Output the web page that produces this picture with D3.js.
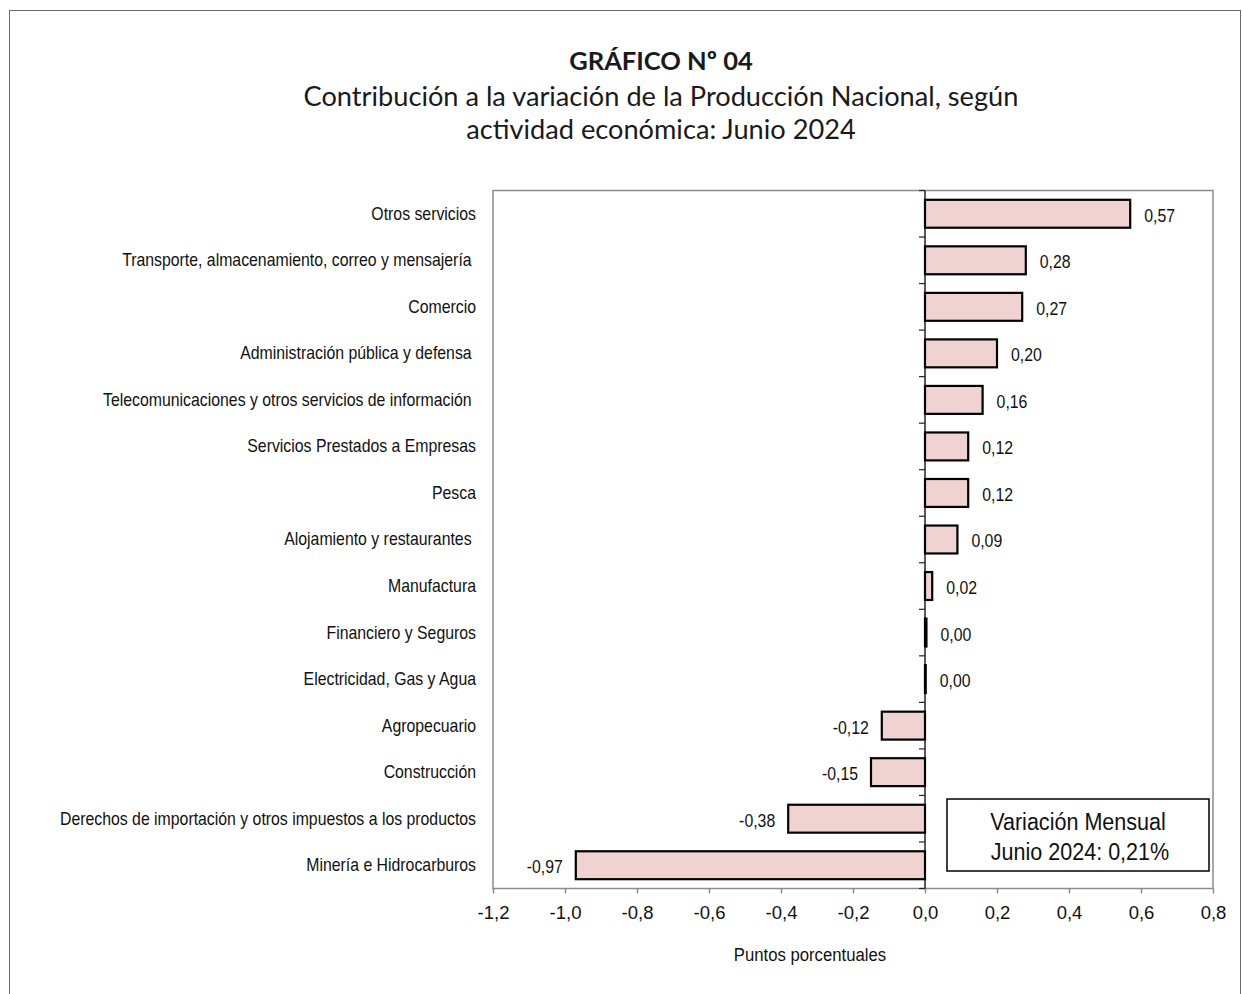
<!DOCTYPE html>
<html>
<head>
<meta charset="utf-8">
<script src="https://cdn.jsdelivr.net/npm/d3@7/dist/d3.min.js"></script>
<style>
  html, body { margin: 0; padding: 0; background: #fff; }
  svg { display: block; }
  .lbl { font-family: "Liberation Sans", Arial, sans-serif; }
  .ttl { font-family: Lato, "Open Sans", sans-serif; }
</style>
</head>
<body>
<script>
const categories = [
  "Otros servicios",
  "Transporte, almacenamiento, correo y mensajería ",
  "Comercio",
  "Administración pública y defensa ",
  "Telecomunicaciones y otros servicios de información ",
  "Servicios Prestados a Empresas",
  "Pesca",
  "Alojamiento y restaurantes ",
  "Manufactura",
  "Financiero y Seguros",
  "Electricidad, Gas y Agua",
  "Agropecuario",
  "Construcción",
  "Derechos de importación y otros impuestos a los productos",
  "Minería e Hidrocarburos"
];
const values = [0.57, 0.28, 0.27, 0.20, 0.16, 0.12, 0.12, 0.09, 0.02, 0.004, 0.002, -0.12, -0.15, -0.38, -0.97];
const xTicks = [-1.2, -1.0, -0.8, -0.6, -0.4, -0.2, 0.0, 0.2, 0.4, 0.6, 0.8];
const titleText = "GRÁFICO Nº 04";
const subtitleLines = ["Contribución a la variación de la Producción Nacional, según", "actividad económica: Junio 2024"];
const xAxisTitle = "Puntos porcentuales";
const noteLines = ["Variación Mensual", "Junio 2024: 0,21%"];

const W = 1242, H = 994;
const plot = {left: 493, right: 1213, top: 190.5, bottom: 888.5};
const SX = 0.88; // horizontal condensing to mimic a narrow sans face

const loc = d3.formatLocale({decimal: ",", thousands: ".", grouping: [3], currency: ["", ""], minus: "-"});
const f1 = loc.format(".1f");
const f2 = loc.format(".2f");

const svg = d3.select("body").append("svg").attr("width", W).attr("height", H);

function narrow(sel, xf, yf) {
  sel.attr("x", (d, i) => xf(d, i) / SX).attr("y", yf).attr("transform", `scale(${SX},1)`);
  return sel;
}

// outer frame
svg.append("rect").attr("x", 9.5).attr("y", 10.5).attr("width", 1231).attr("height", 1000)
  .attr("fill", "none").attr("stroke", "#6b6b6b").attr("stroke-width", 1);

// titles
svg.append("text").attr("class", "ttl").attr("x", 661).attr("y", 70)
  .attr("text-anchor", "middle").attr("font-weight", "bold").attr("font-size", 25.5).attr("fill", "#1a1a1a")
  .text(titleText);
svg.selectAll("text.sub").data(subtitleLines).enter().append("text").attr("class", "ttl sub")
  .attr("x", 661).attr("y", (d, i) => 106 + i * 33)
  .attr("text-anchor", "middle").attr("font-size", 27.2).attr("fill", "#1a1a1a")
  .text(d => d);

const x = d3.scaleLinear().domain([-1.2, 0.8]).range([plot.left, plot.right]);
const y = d3.scaleBand().domain(categories).range([plot.top, plot.bottom]).paddingInner(0.4).paddingOuter(0.2);

// plot border
svg.append("rect").attr("x", plot.left).attr("y", plot.top)
  .attr("width", plot.right - plot.left).attr("height", plot.bottom - plot.top)
  .attr("fill", "none").attr("stroke", "#8c8c8c").attr("stroke-width", 1.5);

// x axis
const xAxis = d3.axisBottom(x).tickValues(xTicks).tickFormat(f1).tickSize(5).tickPadding(12);
const gx = svg.append("g").attr("transform", `translate(0,${plot.bottom})`).call(xAxis);
gx.select(".domain").remove();
gx.selectAll(".tick line").attr("stroke", "#8c8c8c").attr("stroke-width", 1.5);
gx.selectAll(".tick text").attr("class", "lbl").attr("font-size", 18.5).attr("fill", "#111");

narrow(svg.append("text").attr("class", "lbl"), () => 810, 961)
  .attr("text-anchor", "middle").attr("font-size", 19).attr("fill", "#111").text(xAxisTitle);

// y axis at zero
const step = y.step();
const yBounds = d3.range(categories.length + 1).map(i => plot.top + i * step);
svg.append("line").attr("x1", x(0)).attr("x2", x(0)).attr("y1", plot.top).attr("y2", plot.bottom)
  .attr("stroke", "#222").attr("stroke-width", 1.5);
svg.selectAll("line.ytick").data(yBounds).enter().append("line").attr("class", "ytick")
  .attr("x1", x(0) - 6).attr("x2", x(0)).attr("y1", d => d).attr("y2", d => d)
  .attr("stroke", "#222").attr("stroke-width", 1.2);

// bars
svg.selectAll("rect.bar").data(values).enter().append("rect").attr("class", "bar")
  .attr("x", d => x(Math.min(0, d)))
  .attr("y", (d, i) => y(categories[i]))
  .attr("width", d => Math.abs(x(d) - x(0)))
  .attr("height", y.bandwidth())
  .attr("fill", "#f0d3d1").attr("stroke", "#000").attr("stroke-width", 2.2);

// value labels
narrow(svg.selectAll("text.val").data(values).enter().append("text").attr("class", "lbl val"),
    d => d >= 0 ? x(d) + 14 : x(d) - 13,
    (d, i) => y(categories[i]) + y.bandwidth() / 2 + 8)
  .attr("text-anchor", d => d >= 0 ? "start" : "end")
  .attr("font-size", 18).attr("fill", "#111")
  .text(d => f2(d));

// category labels
narrow(svg.selectAll("text.cat").data(categories).enter().append("text").attr("class", "lbl cat"),
    () => 476,
    d => y(d) + y.bandwidth() / 2 + 6)
  .attr("text-anchor", "end").attr("font-size", 18).attr("fill", "#111")
  .attr("xml:space", "preserve").style("white-space", "pre")
  .text(d => d);

// note box
const nb = {x1: 947, x2: 1209, y1: 799, y2: 871};
svg.append("rect").attr("x", nb.x1).attr("y", nb.y1).attr("width", nb.x2 - nb.x1).attr("height", nb.y2 - nb.y1)
  .attr("fill", "#fff").attr("stroke", "#000").attr("stroke-width", 1.5);
narrow(svg.selectAll("text.note").data(noteLines).enter().append("text").attr("class", "lbl note"),
    (d, i) => i === 0 ? 1078 : 1080,
    (d, i) => 830 + i * 30)
  .attr("text-anchor", "middle").attr("font-size", 24.5).attr("fill", "#111")
  .text(d => d);
</script>
</body>
</html>
